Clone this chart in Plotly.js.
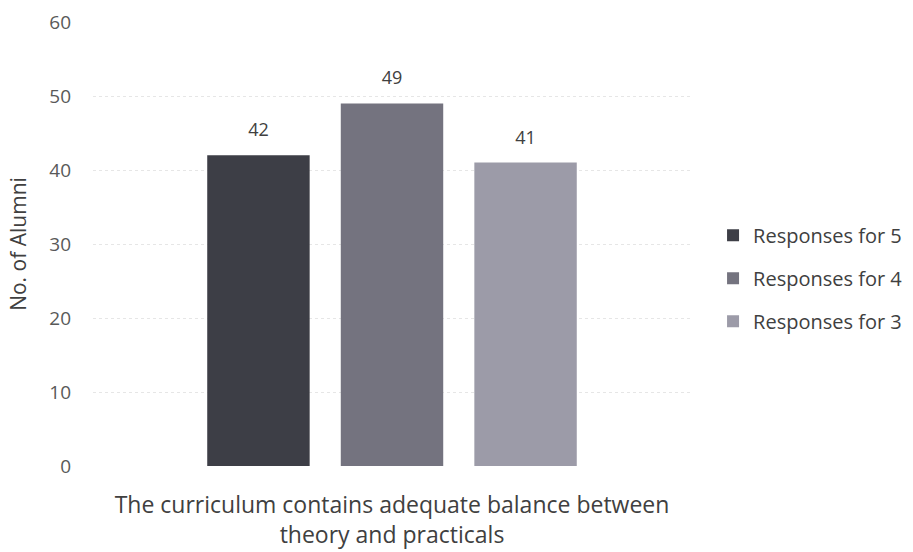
<!DOCTYPE html>
<html>
<head>
<meta charset="utf-8">
<script src="https://cdn.plot.ly/plotly-3.0.1.min.js"></script>
<style>html,body{margin:0;padding:0;background:#fff;}#chart{width:913px;height:552px;}</style>
</head>
<body>
<div id="chart"></div>
<script>
const categories = ["The curriculum contains adequate balance between theory and practicals"];
const categoryLabels = ["The curriculum contains adequate balance between<br>theory and practicals"];
const seriesNames = ["Responses for 5", "Responses for 4", "Responses for 3"];
const resp5 = [42];
const resp4 = [49];
const resp3 = [41];
const seriesValues = [resp5, resp4, resp3];
const seriesColors = ["#3d3e46", "#74737f", "#9c9ba8"];
const yTicks = [0, 10, 20, 30, 40, 50, 60];

const font = "Open Sans, Liberation Sans, sans-serif";
const traces = seriesNames.map((name, i) => ({
  type: "bar",
  name: name,
  legendgroup: "g" + i,
  x: categories,
  y: seriesValues[i],
  marker: {color: seriesColors[i]},
  text: seriesValues[i].map(v => "<span style='font-size:18px'>" + v + "</span><br>\u00a0"),
  textposition: "outside",
  cliponaxis: false,
  textfont: {family: font, size: 10, color: "#404040"},
  hoverinfo: "skip"
}));

const layout = {
  width: 913, height: 552,
  margin: {l: 93, r: 222, t: 22, b: 86},
  paper_bgcolor: "#ffffff",
  plot_bgcolor: "#ffffff",
  barmode: "group",
  bargap: 0.33,
  bargroupgap: 0.233,
  showlegend: true,
  legend: {
    xref: "container", yref: "container",
    x: 0.781, xanchor: "left", y: 0.496, yanchor: "middle",
    font: {family: font, size: 20, color: "#404040"},
    tracegroupgap: 14, itemwidth: 30,
    traceorder: "grouped"
  },
  xaxis: {
    type: "category",
    tickvals: categories,
    ticktext: categoryLabels,
    tickfont: {family: font, size: 23, color: "#404040"},
    ticklabelstandoff: 23,
    showgrid: false, zeroline: false, showline: false,
    ticks: ""
  },
  yaxis: {
    range: [0, 60],
    tickvals: yTicks,
    tickfont: {family: font, size: 19, color: "#595959"},
    gridcolor: "#e6e6e6",
    griddash: "dot",
    zeroline: false, showline: false,
    ticklabelstandoff: 21,
    title: {text: "No. of Alumni", font: {family: font, size: 21, color: "#404040"}, standoff: 16}
  }
};

Plotly.newPlot("chart", traces, layout, {staticPlot: true, displayModeBar: false});
</script>
</body>
</html>
